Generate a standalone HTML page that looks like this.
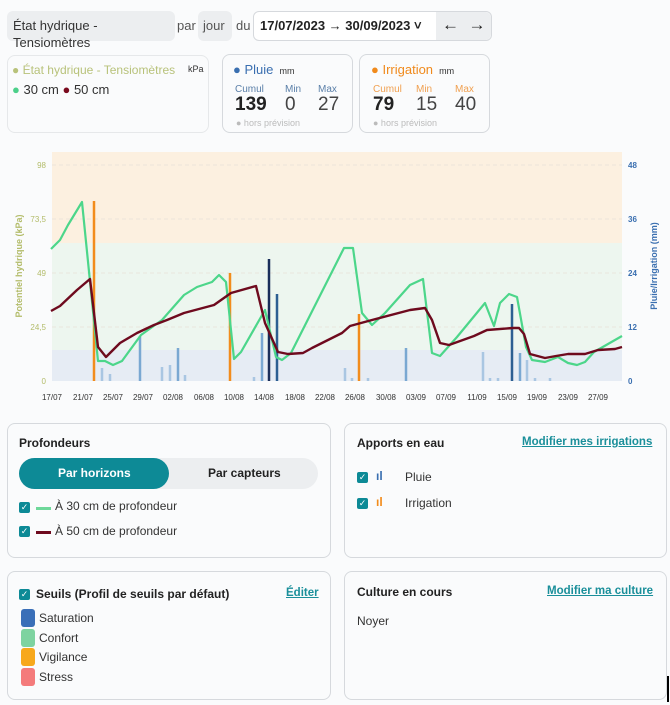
<!DOCTYPE html>
<html><head><meta charset="utf-8"><style>
*{box-sizing:border-box;margin:0;padding:0}
body{width:670px;height:705px;background:#fafbfc;font-family:"Liberation Sans",sans-serif;position:relative;overflow:hidden;color:#222}
.a{position:absolute}
.box{position:absolute;border:1px solid #d6d9dd;border-radius:8px;background:#fafbfc}
.t{position:absolute;white-space:nowrap}
.lnk{color:#1a8f9a;text-decoration:underline;font-weight:bold;font-size:11.5px}
.cb{position:absolute;width:11px;height:11px;background:#0d8a96;border-radius:2px;color:#fff;font-size:9px;line-height:11px;text-align:center}
.sw{position:absolute;width:14px;height:18px;border-radius:3px}
</style></head><body>
<div class="a" style="left:7px;top:11px;width:168px;height:30px;background:#eceef0;border-radius:6px"></div>
<div class="t" style="left:13px;top:18px;font-size:13px;color:#333">État hydrique -</div>
<div class="t" style="left:13px;top:35px;font-size:13px;color:#333">Tensiomètres</div>
<div class="t" style="left:177px;top:18px;font-size:13px;color:#555">par</div>
<div class="a" style="left:198px;top:11px;width:34px;height:30px;background:#eceef0;border-radius:6px"></div>
<div class="t" style="left:203px;top:18px;font-size:13px;color:#555">jour</div>
<div class="t" style="left:236px;top:18px;font-size:13px;color:#555">du</div>
<div class="a" style="left:253px;top:11px;width:239px;height:30px;border:1px solid #d6d9dd;border-radius:6px;background:#fff"></div>
<div class="a" style="left:436px;top:12px;width:55px;height:28px;background:#eceef0;border-radius:0 6px 6px 0"></div>
<div class="t" style="left:260px;top:18px;font-size:13px;font-weight:bold;color:#222">17/07/2023 → 30/09/2023 ˅</div>
<div class="t" style="left:442px;top:15px;font-size:17px;color:#222">←&nbsp;&nbsp;→</div>

<div class="box" style="left:7px;top:55px;width:202px;height:78px;border-color:#e6e8ea"></div>
<div class="t" style="left:12px;top:63px;font-size:12px;color:#b8c27a">● <span>État hydrique - Tensiomètres</span></div>
<div class="t" style="left:188px;top:64px;font-size:9px;color:#333">kPa</div>
<div class="t" style="left:12px;top:82px;font-size:13px;color:#333"><span style="color:#4cd08a">●</span> 30 cm <span style="color:#7a0a1e">●</span> 50 cm</div>

<div class="box" style="left:222px;top:54px;width:131px;height:79px"></div>
<div class="t" style="left:233px;top:62px;font-size:13px;color:#3a6fb0">● Pluie <span style="font-size:9px;color:#333">&nbsp;mm</span></div>
<div class="t" style="left:235px;top:84px;font-size:10px;color:#5a7fa8">Cumul</div>
<div class="t" style="left:285px;top:84px;font-size:10px;color:#5a7fa8">Min</div>
<div class="t" style="left:318px;top:84px;font-size:10px;color:#5a7fa8">Max</div>
<div class="t" style="left:235px;top:94px;font-size:19px;font-weight:bold;color:#222">139</div>
<div class="t" style="left:285px;top:94px;font-size:19px;color:#444">0</div>
<div class="t" style="left:318px;top:94px;font-size:19px;color:#444">27</div>
<div class="t" style="left:236px;top:118px;font-size:9px;color:#bbb">● hors prévision</div>

<div class="box" style="left:359px;top:54px;width:131px;height:79px"></div>
<div class="t" style="left:371px;top:62px;font-size:13px;color:#f08a1c">● Irrigation <span style="font-size:9px;color:#333">&nbsp;mm</span></div>
<div class="t" style="left:373px;top:84px;font-size:10px;color:#f0a050">Cumul</div>
<div class="t" style="left:416px;top:84px;font-size:10px;color:#f0a050">Min</div>
<div class="t" style="left:455px;top:84px;font-size:10px;color:#f0a050">Max</div>
<div class="t" style="left:373px;top:94px;font-size:19px;font-weight:bold;color:#222">79</div>
<div class="t" style="left:416px;top:94px;font-size:19px;color:#444">15</div>
<div class="t" style="left:455px;top:94px;font-size:19px;color:#444">40</div>
<div class="t" style="left:373px;top:118px;font-size:9px;color:#bbb">● hors prévision</div>

<svg class="a" style="left:0;top:0" width="670" height="415" font-family="Liberation Sans, sans-serif">
<rect x="52" y="152" width="570" height="91" fill="#fcf0e0"/>
<rect x="52" y="243" width="570" height="107" fill="#edf6ef"/>
<rect x="52" y="350" width="570" height="31" fill="#e6ecf4"/>
<g stroke="#e8e0d8" stroke-dasharray="4 3" stroke-width="0.8"><line x1="52" x2="622" y1="165" y2="165"/><line x1="52" x2="622" y1="219" y2="219"/><line x1="52" x2="622" y1="273" y2="273"/><line x1="52" x2="622" y1="327" y2="327"/></g>
<g font-size="8" fill="#b3bc6a" text-anchor="end"><text x="46" y="168">98</text><text x="46" y="222">73,5</text><text x="46" y="276">49</text><text x="46" y="330">24,5</text><text x="46" y="384">0</text></g>
<g font-size="8" fill="#3a6fb0" font-weight="bold"><text x="628" y="168">48</text><text x="628" y="222">36</text><text x="628" y="276">24</text><text x="628" y="330">12</text><text x="628" y="384">0</text></g>
<text transform="translate(22,266) rotate(-90)" font-size="9" fill="#b3bc6a" font-weight="bold" text-anchor="middle">Potentiel hydrique (kPa)</text>
<text transform="translate(657,266) rotate(-90)" font-size="9" fill="#3a6fb0" font-weight="bold" text-anchor="middle">Pluie/Irrigation (mm)</text>
<g font-size="8" fill="#333" text-anchor="middle"><text x="52" y="400">17/07</text><text x="83" y="400">21/07</text><text x="113" y="400">25/07</text><text x="143" y="400">29/07</text><text x="173" y="400">02/08</text><text x="204" y="400">06/08</text><text x="234" y="400">10/08</text><text x="264" y="400">14/08</text><text x="295" y="400">18/08</text><text x="325" y="400">22/08</text><text x="355" y="400">26/08</text><text x="386" y="400">30/08</text><text x="416" y="400">03/09</text><text x="446" y="400">07/09</text><text x="477" y="400">11/09</text><text x="507" y="400">15/09</text><text x="537" y="400">19/09</text><text x="568" y="400">23/09</text><text x="598" y="400">27/09</text></g>
<g stroke="#a9c6e2" stroke-width="2.5"><line x1="102" x2="102" y1="381" y2="368"/><line x1="110" x2="110" y1="381" y2="374"/><line x1="162" x2="162" y1="381" y2="367"/><line x1="170" x2="170" y1="381" y2="365"/><line x1="185" x2="185" y1="381" y2="375"/><line x1="254" x2="254" y1="381" y2="377"/><line x1="345" x2="345" y1="381" y2="368"/><line x1="352" x2="352" y1="381" y2="378"/><line x1="368" x2="368" y1="381" y2="378"/><line x1="483" x2="483" y1="381" y2="352"/><line x1="490" x2="490" y1="381" y2="378"/><line x1="498" x2="498" y1="381" y2="378"/><line x1="527" x2="527" y1="381" y2="360"/><line x1="535" x2="535" y1="381" y2="378"/><line x1="550" x2="550" y1="381" y2="378"/></g>
<g stroke="#7aa8d2" stroke-width="2.5"><line x1="140" x2="140" y1="381" y2="336"/><line x1="178" x2="178" y1="381" y2="348"/><line x1="262" x2="262" y1="381" y2="333"/><line x1="406" x2="406" y1="381" y2="348"/><line x1="520" x2="520" y1="381" y2="353"/></g>
<g stroke="#f28c1c" stroke-width="2.5"><line x1="94" x2="94" y1="381" y2="201"/><line x1="230" x2="230" y1="381" y2="273"/><line x1="359" x2="359" y1="381" y2="314"/></g>
<line x1="269" x2="269" y1="381" y2="259" stroke="#1a2e5a" stroke-width="2.5"/>
<line x1="277" x2="277" y1="381" y2="294" stroke="#2d5f92" stroke-width="2.5"/>
<line x1="512" x2="512" y1="381" y2="304" stroke="#2d5f92" stroke-width="2.5"/>
<polyline fill="none" stroke="#4cd68a" stroke-width="2.2" stroke-linejoin="round" points="51,249 60,240 68,225 82,202 98,361 105,361 113,365 122,361 141,335 162,320 184,295 197,287 212,282 219,275 226,282 234,359 241,352 265,310 276,357 282,360 291,353 344,248 353,248 362,313 372,325 385,313 410,285 423,279 432,353 440,356 457,337 485,303 494,326 500,303 509,294 517,297 526,347 532,360 545,362 558,357 568,363 577,365 585,362 594,352 622,336"/>
<polyline fill="none" stroke="#6e0a1e" stroke-width="2.4" stroke-linejoin="round" points="51,311 60,306 77,290 90,279 98,347 106,357 120,343 137,333 154,325 167,320 184,313 214,305 231,293 256,286 265,323 278,352 288,354 303,353 312,348 342,333 350,326 372,320 410,310 425,308 432,320 440,343 449,345 474,336 487,330 513,328 519,328 524,334 530,354 545,358 556,356 568,354 585,354 598,350 615,349 622,347"/>
</svg>

<div class="box" style="left:7px;top:423px;width:324px;height:135px"></div>
<div class="t" style="left:19px;top:436px;font-size:12px;font-weight:bold">Profondeurs</div>
<div class="a" style="left:19px;top:458px;width:299px;height:31px;background:#eceef0;border-radius:16px"></div>
<div class="a" style="left:19px;top:458px;width:150px;height:31px;background:#0d8a96;border-radius:16px"></div>
<div class="t" style="left:58px;top:466px;font-size:12px;font-weight:bold;color:#fff">Par horizons</div>
<div class="t" style="left:208px;top:466px;font-size:12px;font-weight:bold;color:#222">Par capteurs</div>
<div class="cb" style="left:19px;top:502px">✓</div>
<div class="a" style="left:36px;top:507px;width:15px;height:3px;background:#6ed89a"></div>
<div class="t" style="left:55px;top:499px;font-size:12px;color:#333">À 30 cm de profondeur</div>
<div class="cb" style="left:19px;top:526px">✓</div>
<div class="a" style="left:36px;top:531px;width:15px;height:3px;background:#6e0a1e"></div>
<div class="t" style="left:55px;top:524px;font-size:12px;color:#333">À 50 cm de profondeur</div>

<div class="box" style="left:344px;top:423px;width:323px;height:135px"></div>
<div class="t" style="left:357px;top:436px;font-size:12px;font-weight:bold">Apports en eau</div>
<div class="t lnk" style="left:522px;top:436px">Modifier mes irrigations</div>
<div class="cb" style="left:357px;top:472px">✓</div>
<div class="t" style="left:376px;top:469px;font-size:12px;color:#3a6fb0;font-weight:bold">ıl</div>
<div class="t" style="left:405px;top:470px;font-size:12px;color:#333">Pluie</div>
<div class="cb" style="left:357px;top:498px">✓</div>
<div class="t" style="left:376px;top:495px;font-size:12px;color:#f28c1c;font-weight:bold">ıl</div>
<div class="t" style="left:405px;top:496px;font-size:12px;color:#333">Irrigation</div>

<div class="box" style="left:7px;top:571px;width:324px;height:129px"></div>
<div class="cb" style="left:19px;top:589px">✓</div>
<div class="t" style="left:36px;top:587px;font-size:12px;font-weight:bold">Seuils (Profil de seuils par défaut)</div>
<div class="t lnk" style="left:286px;top:587px">Éditer</div>
<div class="sw" style="left:21px;top:609px;background:#3a6fb8"></div><div class="t" style="left:39px;top:611px;font-size:12px;color:#333">Saturation</div>
<div class="sw" style="left:21px;top:629px;background:#7ed3a0"></div><div class="t" style="left:39px;top:631px;font-size:12px;color:#333">Confort</div>
<div class="sw" style="left:21px;top:648px;background:#f7a81c"></div><div class="t" style="left:39px;top:650px;font-size:12px;color:#333">Vigilance</div>
<div class="sw" style="left:21px;top:668px;background:#f47b7b"></div><div class="t" style="left:39px;top:670px;font-size:12px;color:#333">Stress</div>

<div class="box" style="left:344px;top:571px;width:323px;height:129px"></div>
<div class="t" style="left:357px;top:585px;font-size:12px;font-weight:bold">Culture en cours</div>
<div class="t lnk" style="left:547px;top:585px">Modifier ma culture</div>
<div class="t" style="left:357px;top:614px;font-size:12px;color:#333">Noyer</div>
<div class="a" style="left:667px;top:676px;width:2px;height:26px;background:#000"></div>
</body></html>
